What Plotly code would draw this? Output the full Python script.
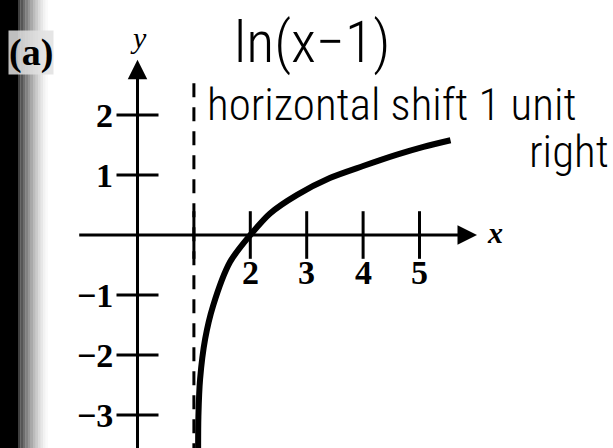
import plotly.graph_objects as go

# Graph of y = ln(x - 1): points along the drawn curve
curve_x = [1.075, 1.08, 1.11, 1.20, 1.34, 1.64, 2.0, 2.35, 2.83, 3.41, 4.0, 4.6, 5.07, 5.55]
curve_y = [-3.6, -3.02, -2.4, -1.73, -1.18, -0.45, 0.0, 0.36, 0.67, 0.95, 1.15, 1.34, 1.47, 1.58]

# Vertical asymptote x = 1
asymptote_x = 1
asymptote_top = 2.53

# Axis ticks and labels
x_tick_vals = [1, 2, 3, 4, 5]
x_tick_text = ["", "2", "3", "4", "5"]
y_tick_vals = [2, 1, -1, -2, -3]
y_tick_text = ["2", "1", "\u22121", "\u22122", "\u22123"]

# Axis extents
x_axis_start, x_axis_end = -1.06, 6.02
y_axis_start, y_axis_end = -3.6, 2.92

# Handwritten notes
note_formula = "ln(x\u22121)"
note_shift = "horizontal shift 1 unit"
note_dir = "right"

SERIF = "Liberation Serif, Times New Roman, serif"
HAND = "Roboto Condensed, Liberation Sans Narrow, Roboto, sans-serif"

fig = go.Figure()

# dashed asymptote
fig.add_trace(go.Scatter(
    x=[asymptote_x, asymptote_x], y=[asymptote_top, y_axis_start],
    mode="lines", line=dict(color="black", width=3, dash="14px,10px"),
    hoverinfo="skip", showlegend=False))

# axis lines with arrowheads
fig.add_annotation(x=x_axis_end, y=0, ax=x_axis_start, ay=0,
                   xref="x", yref="y", axref="x", ayref="y",
                   showarrow=True, arrowhead=2, arrowsize=1.3, arrowwidth=3,
                   arrowcolor="black", text="")
fig.add_annotation(x=0, y=y_axis_end, ax=0, ay=y_axis_start,
                   xref="x", yref="y", axref="x", ayref="y",
                   showarrow=True, arrowhead=2, arrowsize=1.3, arrowwidth=3,
                   arrowcolor="black", text="")

# tick marks crossing the axes
fig.add_trace(go.Scatter(
    x=x_tick_vals, y=[0] * len(x_tick_vals), mode="markers",
    marker=dict(symbol="line-ns", size=34, line=dict(color="black", width=3)),
    hoverinfo="skip", showlegend=False))
fig.add_trace(go.Scatter(
    x=[0] * len(y_tick_vals), y=y_tick_vals, mode="markers",
    marker=dict(symbol="line-ew", size=30, line=dict(color="black", width=3)),
    hoverinfo="skip", showlegend=False))

# the curve
fig.add_trace(go.Scatter(
    x=curve_x, y=curve_y, mode="lines",
    line=dict(color="black", width=6, shape="spline", smoothing=0.8),
    hoverinfo="skip", showlegend=False))

# tick labels
for v, t in zip(x_tick_vals, x_tick_text):
    if t:
        fig.add_annotation(x=v, y=-0.62, text=t, showarrow=False,
                           xanchor="center", yanchor="middle",
                           font=dict(family=SERIF, size=34, color="black", weight="bold"))
for v, t in zip(y_tick_vals, y_tick_text):
    fig.add_annotation(x=-0.40, y=v, text=t, showarrow=False,
                       xanchor="right", yanchor="middle",
                       font=dict(family=SERIF, size=34, color="black", weight="bold"))

# axis names
fig.add_annotation(x=0.01, y=3.30, text="<i>y</i>", showarrow=False,
                   font=dict(family=SERIF, size=30, color="black"))
fig.add_annotation(x=6.34, y=0.05, text="<b><i>x</i></b>", showarrow=False,
                   font=dict(family=SERIF, size=30, color="black"))

# handwritten notes
fig.add_annotation(x=1.676, y=3.22, text=note_formula, showarrow=False,
                   xanchor="left", yanchor="middle",
                   font=dict(family=HAND, size=58, color="black", weight=300))
fig.add_annotation(x=1.197, y=2.18, text=note_shift, showarrow=False,
                   xanchor="left", yanchor="middle",
                   font=dict(family=HAND, size=45, color="black", weight=300))
fig.add_annotation(x=6.90, y=1.40, text=note_dir, showarrow=False,
                   xanchor="left", yanchor="middle",
                   font=dict(family=HAND, size=45, color="black", weight=300))

# dark scanned page edge on the left, fading into the page
edge_steps = 12
fig.add_shape(type="rect", xref="paper", yref="paper",
              x0=0, x1=18 / 613, y0=0, y1=1,
              fillcolor="black", line=dict(width=0), layer="below")
for i in range(edge_steps):
    x0 = 18 + i * 2.5
    fig.add_shape(type="rect", xref="paper", yref="paper",
                  x0=x0 / 613, x1=(x0 + 2.5) / 613, y0=0, y1=1,
                  fillcolor="black", opacity=0.85 * (1 - (i + 1) / (edge_steps + 1)) ** 1.5,
                  line=dict(width=0), layer="below")

# panel label, with a pale halo so it reads over the dark edge
fig.add_annotation(x=31 / 613, y=1 - 53 / 448, xref="paper", yref="paper",
                   xanchor="center", yanchor="middle",
                   text="<b>(a)</b>", showarrow=False,
                   bgcolor="rgba(225,225,225,0.85)", borderpad=0,
                   font=dict(family=SERIF, size=38, color="black"))

fig.update_layout(
    width=613, height=448,
    margin=dict(l=0, r=0, t=0, b=0),
    paper_bgcolor="white", plot_bgcolor="white",
    xaxis=dict(range=[-2.438, 8.431], visible=False, fixedrange=True),
    yaxis=dict(range=[-3.55, 3.917], visible=False, fixedrange=True),
    showlegend=False,
)

fig.write_html("out.html")
